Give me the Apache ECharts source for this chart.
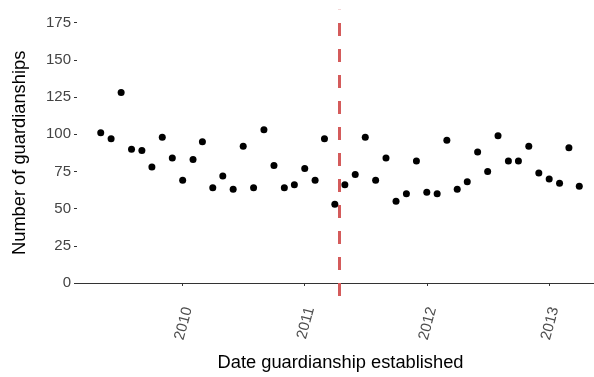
<!DOCTYPE html>
<html lang="en">
<head>
<meta charset="UTF-8">
<title>Guardianships by month</title>
<script src="https://cdn.jsdelivr.net/npm/echarts@6/dist/echarts.min.js"></script>
<style>
  html, body { margin: 0; padding: 0; background: #fff; }
  #chart { width: 594px; height: 377px; }
</style>
</head>
<body>
<div id="chart"></div>
<script>
// monthly counts, May 2009 - Apr 2013
var months = [
  '2009-05-01', '2009-06-01', '2009-07-01', '2009-08-01', '2009-09-01', '2009-10-01',
  '2009-11-01', '2009-12-01', '2010-01-01', '2010-02-01', '2010-03-01', '2010-04-01',
  '2010-05-01', '2010-06-01', '2010-07-01', '2010-08-01', '2010-09-01', '2010-10-01',
  '2010-11-01', '2010-12-01', '2011-01-01', '2011-02-01', '2011-03-01', '2011-04-01',
  '2011-05-01', '2011-06-01', '2011-07-01', '2011-08-01', '2011-09-01', '2011-10-01',
  '2011-11-01', '2011-12-01', '2012-01-01', '2012-02-01', '2012-03-01', '2012-04-01',
  '2012-05-01', '2012-06-01', '2012-07-01', '2012-08-01', '2012-09-01', '2012-10-01',
  '2012-11-01', '2012-12-01', '2013-01-01', '2013-02-01', '2013-03-01', '2013-04-01'
];
var counts = [
  101, 97, 128, 90, 89, 78, 98, 84, 69, 83, 95, 64,
  72, 63, 92, 64, 103, 79, 64, 66, 77, 69, 97, 53,
  66, 73, 98, 69, 84, 55, 60, 82, 61, 60, 96, 63,
  68, 88, 75, 99, 82, 82, 92, 74, 70, 67, 91, 65
];
var yTicks = [0, 25, 50, 75, 100, 125, 150, 175];
var yearTicks = ['2010-01-01', '2011-01-01', '2012-01-01', '2013-01-01'];
var cutoffDate = '2011-04-13';

// dates -> ms, x axis is a plain value axis over timestamps
function toTime(s) {
  var p = s.split('-');
  return new Date(+p[0], +p[1] - 1, +p[2]).getTime();
}

var points = months.map(function (m, i) { return [toTime(m), counts[i]]; });
var font = 'Liberation Sans, Arial, sans-serif';

var chart = echarts.init(document.getElementById('chart'));
chart.setOption({
  animation: false,
  grid: { left: 77, right: 0, top: 9.7, bottom: 80.7 },
  xAxis: {
    type: 'value',
    min: toTime('2009-02-19'),
    max: toTime('2013-05-15'),
    name: 'Date guardianship established',
    nameLocation: 'middle',
    nameGap: 58,
    nameTextStyle: { fontFamily: font, fontSize: 18.3, color: '#000', padding: [0, 0, 0, 10] },
    splitLine: { show: false },
    axisLine: { show: true, lineStyle: { color: '#333', width: 1.1 } },
    axisTick: { show: true, length: 3, lineStyle: { color: '#333' },
      customValues: yearTicks.map(toTime) },
    axisLabel: {
      customValues: yearTicks.map(toTime),
      formatter: function (v) { return String(new Date(v).getFullYear()); },
      rotate: 75, margin: 10,
      verticalAlign: 'top', lineHeight: 11,
      fontFamily: font, fontSize: 15, color: '#4d4d4d'
    }
  },
  yAxis: {
    type: 'value',
    min: -8.75,
    max: 183.75,
    name: 'Number of guardianships',
    nameLocation: 'middle',
    nameGap: 48,
    nameTextStyle: { fontFamily: font, fontSize: 18.3, color: '#000' },
    splitLine: { show: false },
    axisLine: { show: false },
    axisTick: { show: true, length: 3, lineStyle: { color: '#333' }, customValues: yTicks },
    axisLabel: {
      customValues: yTicks, margin: 6,
      fontFamily: font, fontSize: 15, color: '#444'
    }
  },
  series: [{
    type: 'scatter',
    data: points,
    symbolSize: 7,
    itemStyle: { color: '#000', opacity: 1 },
    markLine: {
      silent: true,
      symbol: 'none',
      label: { show: false },
      lineStyle: { color: '#d45b5b', width: 3, type: [13, 13], opacity: 1 },
      data: [{ xAxis: toTime(cutoffDate) }]
    }
  }]
});
</script>
</body>
</html>
